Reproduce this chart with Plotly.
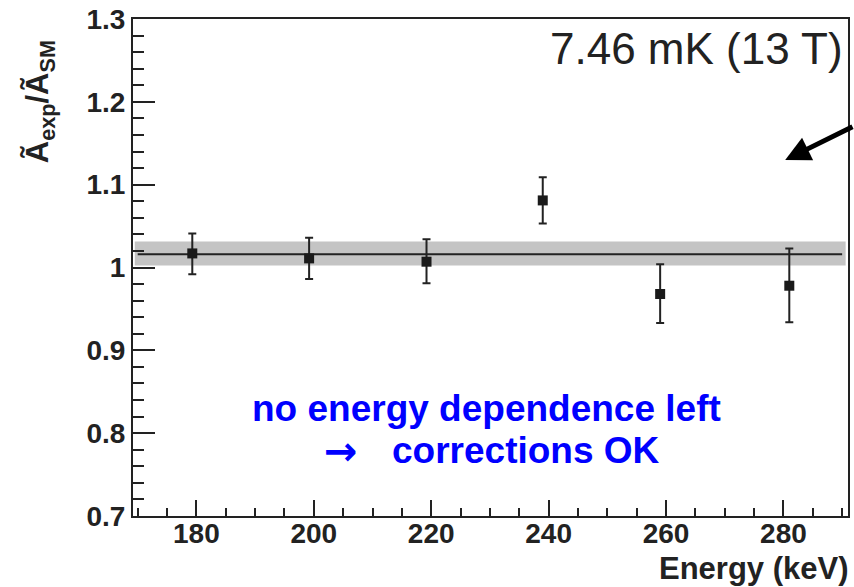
import plotly.graph_objects as go

# ---- data ----
energy = [179.3, 199.2, 219.2, 239.0, 259.0, 281.0]
ratio = [1.017, 1.011, 1.007, 1.081, 0.968, 0.978]
err_up = [0.024, 0.025, 0.027, 0.028, 0.036, 0.045]
err_down = [0.025, 0.025, 0.026, 0.028, 0.035, 0.044]

fit_value = 1.016
fit_band_lo = 1.0025
fit_band_hi = 1.0315
fit_x = [170, 290]
band_x = [169.5, 290.6]

x_range = [169.2, 291.0]
y_range = [0.7, 1.3]
x_ticks = [180, 200, 220, 240, 260, 280]
y_ticks = [0.7, 0.8, 0.9, 1.0, 1.1, 1.2, 1.3]
y_ticklabels = ["0.7", "0.8", "0.9", "1", "1.1", "1.2", "1.3"]

FONT = "Liberation Sans, Arial, Helvetica, sans-serif"
INK = "#222222"
BLUE = "#0000ff"

fig = go.Figure()

# uncertainty band of the fit
fig.add_trace(go.Scatter(
    x=[band_x[0], band_x[1], band_x[1], band_x[0], band_x[0]],
    y=[fit_band_lo, fit_band_lo, fit_band_hi, fit_band_hi, fit_band_lo],
    fill="toself", fillcolor="#c4c4c4", line=dict(width=0),
    mode="lines", hoverinfo="skip", showlegend=False))

# fit line
fig.add_trace(go.Scatter(
    x=fit_x, y=[fit_value, fit_value], mode="lines",
    line=dict(color=INK, width=2), showlegend=False))

# data points
fig.add_trace(go.Scatter(
    x=energy, y=ratio, mode="markers",
    marker=dict(symbol="square", size=10, color="#1a1a1a"),
    error_y=dict(type="data", array=err_up, arrayminus=err_down,
                 color=INK, thickness=2, width=4),
    showlegend=False))

fig.update_layout(
    width=854, height=587,
    margin=dict(l=133, r=4, t=19, b=71),
    paper_bgcolor="white", plot_bgcolor="white",
    font=dict(family=FONT, color=INK),
    showlegend=False,
)

fig.update_xaxes(
    range=x_range, showgrid=False, zeroline=False,
    showline=True, linecolor=INK, linewidth=2, mirror=True,
    tickmode="array", tickvals=x_ticks,
    ticks="inside", ticklen=16, tickwidth=2, tickcolor=INK,
    ticklabelstandoff=-9,
    tickfont=dict(family=FONT, size=28, color=INK, weight="bold"),
    minor=dict(ticks="inside", ticklen=8, tickwidth=2, tickcolor=INK,
               dtick=5, tick0=0, showgrid=False),
)
fig.update_yaxes(
    range=y_range, showgrid=False, zeroline=False,
    showline=True, linecolor=INK, linewidth=2, mirror=True,
    tickmode="array", tickvals=y_ticks, ticktext=y_ticklabels,
    ticks="inside", ticklen=22, tickwidth=2, tickcolor=INK,
    tickfont=dict(family=FONT, size=28, color=INK, weight="bold"),
    minor=dict(ticks="inside", ticklen=11, tickwidth=2, tickcolor=INK,
               dtick=0.02, tick0=0.7, showgrid=False),
)

PW, PH = 717, 497


def px(xp):
    return (xp - 133) / PW


def py(yp):
    return (516 - yp) / PH


annotations = [
    # y-axis title
    dict(text="<b>Ã<sub>exp</sub>/Ã<sub>SM</sub></b>", textangle=-90,
         xref="paper", yref="paper", x=px(40), y=py(102),
         xanchor="center", yanchor="middle", showarrow=False,
         font=dict(family=FONT, size=31, color=INK)),
    # x-axis title
    dict(text="<b>Energy (keV)</b>", xref="paper", yref="paper",
         x=px(853), y=py(568), xanchor="right", yanchor="middle",
         showarrow=False, font=dict(family=FONT, size=31, color=INK)),
    # temperature label
    dict(text="7.46 mK (13 T)", xref="paper", yref="paper",
         x=px(847), y=py(48), xanchor="right",
         yanchor="middle", showarrow=False,
         font=dict(family=FONT, size=44, color=INK)),
    # blue text
    dict(text="<b>no energy dependence left</b>", xref="paper", yref="paper",
         x=px(487.5), y=py(408), xanchor="center",
         yanchor="middle", showarrow=False,
         font=dict(family=FONT, size=37, color=BLUE)),
    dict(text="<b>→</b>", xref="paper", yref="paper",
         x=px(342), y=py(451), xanchor="center",
         yanchor="middle", showarrow=False,
         font=dict(family="DejaVu Sans", size=40, color=BLUE,
                   weight="bold")),
    dict(text="<b>corrections OK</b>", xref="paper", yref="paper",
         x=px(527.5), y=py(450), xanchor="center",
         yanchor="middle", showarrow=False,
         font=dict(family=FONT, size=37, color=BLUE)),
    # arrow
    dict(text="", xref="paper", yref="paper",
         x=px(787), y=py(160),
         ax=85, ay=-34, showarrow=True, arrowhead=2, arrowsize=1,
         arrowwidth=5, arrowcolor="black"),
]
fig.update_layout(annotations=annotations)

fig.write_html("out.html")
